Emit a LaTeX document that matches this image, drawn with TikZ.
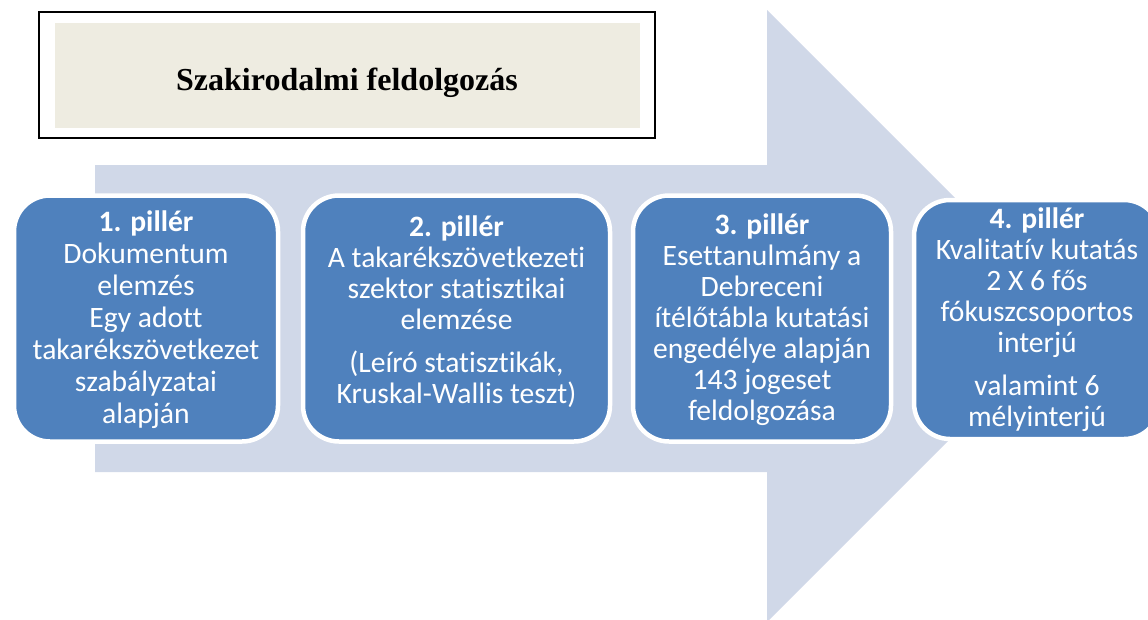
\documentclass[tikz,border=0pt]{standalone}
\usepackage{fontspec}
\setmainfont{Carlito}[Ligatures=NoCommon]
\newfontfamily\titlefont{Liberation Serif}
\definecolor{pillblue}{HTML}{4F81BD}
\definecolor{arrowfill}{HTML}{D0D8E8}
\definecolor{titlefill}{HTML}{EEECE1}
\newcommand{\pilllines}[2]{\parbox[t]{320pt}{\centering\fontsize{29.6}{#1}\selectfont #2}}
\begin{document}
\begin{tikzpicture}[x=1pt,y=-1pt,
  pill/.style={draw=white, line width=4.5pt, fill=pillblue, rounded corners=36pt, inner sep=0pt},
  pilltext/.style={anchor=base, inner sep=0pt, text=white},
]
\useasboundingbox (0,0) rectangle (1148,619);
\clip (0,0) rectangle (1148,619);
% big background arrow
\fill[arrowfill] (95,165) -- (767,165) -- (767,10) -- (1073,316) -- (767,622) -- (767,472) -- (95,472) -- cycle;
% title
\node[draw=black, line width=1.5pt, fill=white, minimum width=616pt, minimum height=126pt, inner sep=0pt] (titleframe) at (347,75) {};
\node[fill=titlefill, minimum width=585pt, minimum height=105pt, inner sep=0pt] (titlebg) at (347.5,75.5) {};
\node[anchor=base, inner sep=0pt] (title) at (347,90) {\titlefont\bfseries\fontsize{32}{38}\selectfont Szakirodalmi feldolgozás};
% pillars
\node[pill, minimum width=264pt, minimum height=246pt] (p1) at (146,318.5) {};
\node[pill, minimum width=307pt, minimum height=246pt] (p2) at (456.5,318.5) {};
\node[pill, minimum width=258pt, minimum height=246pt] (p3) at (762,318.5) {};
\node[pill, minimum width=246pt, minimum height=239pt] (p4) at (1037,319.5) {};
\node[pilltext] (t1) at (146,231) {\pilllines{32}{\textbf{1. pillér}\\Dokumentum\\elemzés\\Egy adott\\takarékszövetkezet\\szabályzatai\\alapján}};
\node[pilltext] (t2) at (456.5,236) {\pilllines{31}{\textbf{2. pillér}\\A takarékszövetkezeti\\szektor statisztikai\\elemzése\\[12pt](Leíró statisztikák,\\Kruskal-Wallis teszt)}};
\node[pilltext] (t3) at (762,234) {\pilllines{31}{\textbf{3. pillér}\\Esettanulmány a\\Debreceni\\ítélőtábla kutatási\\engedélye alapján\\143 jogeset\\feldolgozása}};
\node[pilltext] (t4) at (1037,228) {\pilllines{31}{\textbf{4. pillér}\\Kvalitatív kutatás\\2 X 6 fős\\fókuszcsoportos\\interjú\\[12pt]valamint 6\\mélyinterjú}};
\end{tikzpicture}
\end{document}
